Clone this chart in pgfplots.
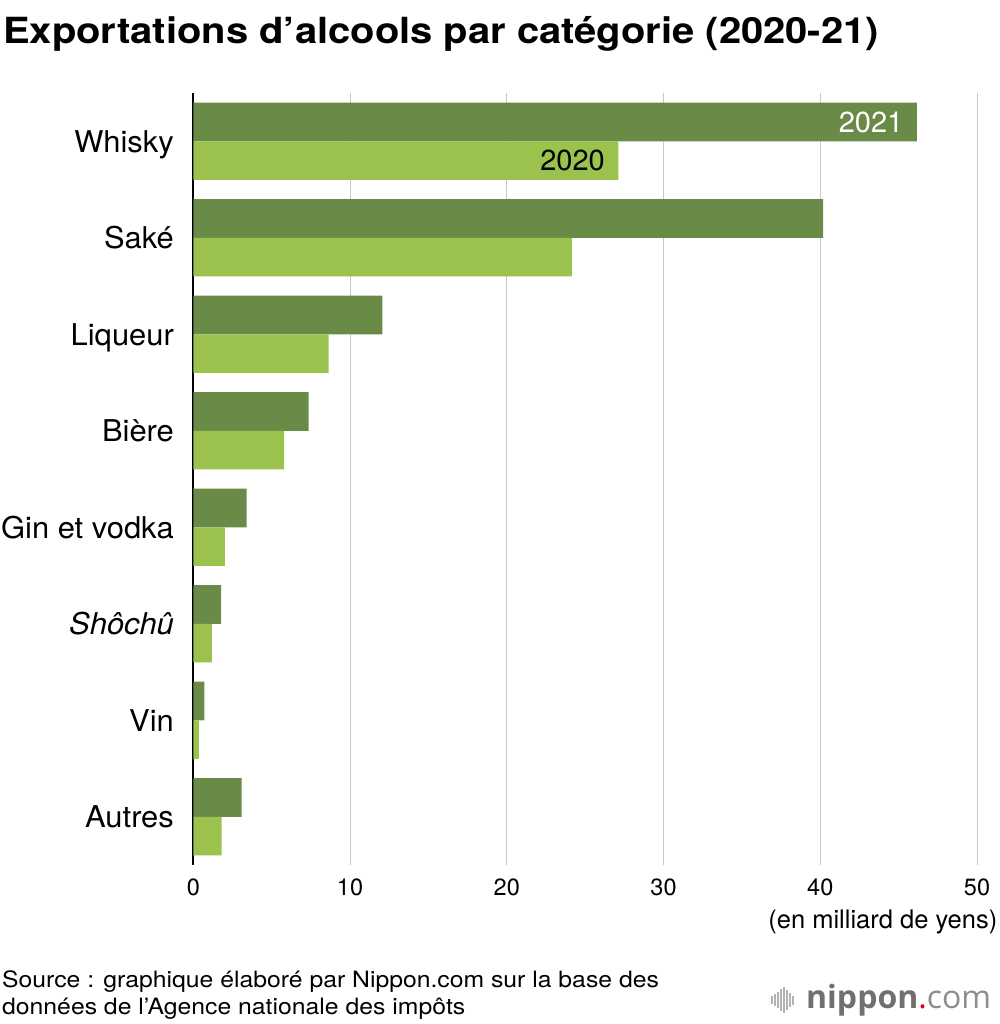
\documentclass[border=0pt]{standalone}
\usepackage{fontspec}
\setmainfont{TeX Gyre Heros}
\newfontfamily\titlefont[FakeStretch=1.11]{TeX Gyre Heros}
\newfontfamily\srcfont[FakeStretch=1.10]{TeX Gyre Heros}
\newfontfamily\catfont[FakeStretch=1.03]{TeX Gyre Heros}
\newfontfamily\logofont{Open Sans}
\usepackage{pgfplots}
\pgfplotsset{compat=1.18}
\definecolor{dark}{HTML}{6A8A48}
\definecolor{light}{HTML}{9BC24C}
\definecolor{gridc}{HTML}{C8C8C8}
\definecolor{logogray}{HTML}{707070}
\definecolor{logored}{HTML}{E60012}
\begin{document}
\begin{tikzpicture}
\useasboundingbox (0,0) rectangle (1000bp,-1024bp);
\node[anchor=base west, inner sep=0pt, font=\titlefont\fontsize{36bp}{40bp}\selectfont\bfseries] at (3bp,-43bp) {Exportations d’alcools par catégorie (2020-21)};
\begin{axis}[
  at={(193.3bp,-865bp)}, anchor=south west,
  width=783.7bp, height=772bp, scale only axis,
  xmin=0, xmax=50, ymin=-0.5, ymax=7.5, y dir=reverse,
  xtick={0,10,20,30,40,50},
  ytick={0,1,2,3,4,5,6,7},
  yticklabels={Whisky,Saké,Liqueur,Bière,Gin et vodka,\textit{Shôchû},Vin,Autres},
  xmajorgrids, major grid style={gridc, line width=1bp},
  axis x line*=bottom, axis y line*=left,
  x axis line style={draw=none},
  y axis line style={-, black, line width=1.6bp},
  tick style={draw=none},
  /pgf/number format/assume math mode=true,
  xticklabel style={font=\fontsize{23.5bp}{28bp}\selectfont, anchor=base, inner sep=0pt, yshift=-30bp},
  yticklabel style={font=\catfont\fontsize{30bp}{36bp}\selectfont, anchor=base east, inner sep=0pt, xshift=-15bp, yshift=-10.8bp},
  xbar, bar width=0.4,
  clip=false,
]
\addplot[xbar, bar shift=-0.2, fill=dark, draw=none] coordinates {
  (46.17,0) (40.19,1) (12.06,2) (7.36,3) (3.41,4) (1.77,5) (0.70,6) (3.09,7)};
\addplot[xbar, bar shift=0.2, fill=light, draw=none] coordinates {
  (27.12,0) (24.15,1) (8.64,2) (5.79,3) (2.02,4) (1.19,5) (0.36,6) (1.81,7)};
\node[anchor=east, inner sep=0pt, text=white, font=\fontsize{29bp}{34bp}\selectfont] at (axis cs:45.31,-0.2) {2021};
\node[anchor=east, inner sep=0pt, text=black, font=\fontsize{29bp}{34bp}\selectfont] at (axis cs:26.27,0.2) {2020};
\end{axis}
\node[anchor=base east, inner sep=0pt, font=\fontsize{25.5bp}{30bp}\selectfont] at (997.5bp,-928.3bp) {(en milliard de yens)};
\node[anchor=base west, inner sep=0pt, font=\srcfont\fontsize{22.5bp}{27bp}\selectfont] at (2bp,-987.3bp) {Source : graphique élaboré par Nippon.com sur la base des};
\node[anchor=base west, inner sep=0pt, font=\srcfont\fontsize{22.5bp}{27bp}\selectfont] at (2bp,-1014.3bp) {données de l’Agence nationale des impôts};
% logo
\foreach \xx/\hh in {772/8,775/12,778/16,781/22,784/26,787/20,790/14,793/9}{
  \draw[gray!60, line width=1.3bp] (\xx bp,-1000bp-\hh bp/2) -- (\xx bp,-1000bp+\hh bp/2);
}
\node[anchor=base west, inner sep=0pt, font=\logofont\fontsize{32bp}{32bp}\selectfont] at (806bp,-1008bp) {\textcolor{logogray}{\bfseries nippon}\textcolor{logored}{.}\textcolor{logogray!80}{com}};
\end{tikzpicture}
\end{document}
